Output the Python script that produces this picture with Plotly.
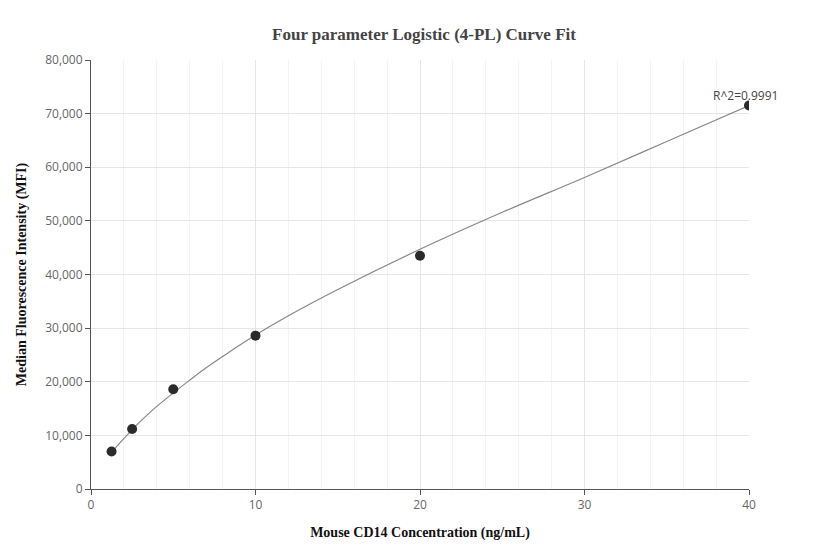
import plotly.graph_objects as go

# measured standards
conc = [1.25, 2.5, 5, 10, 20, 40]
mfi = [7000, 11200, 18600, 28600, 43500, 71500]

# fitted curve
curve_x = [1.25, 2, 3, 4, 5, 6, 7, 8, 10, 12, 15, 20, 25, 30, 35, 40]
curve_y = [6900, 9400, 12600, 15400, 17900, 20300, 22600, 24700, 28700, 32300, 37200, 44700, 51600, 58100, 64800, 71500]

r2_label = "R^2=0.9991"

fig = go.Figure()
fig.add_trace(go.Scatter(x=curve_x, y=curve_y, mode='lines', line=dict(color='#888888', width=1.2, shape='spline'),
                         hoverinfo='skip', showlegend=False))
fig.add_trace(go.Scatter(x=conc, y=mfi, mode='markers', marker=dict(color='#2b2b2b', size=10), showlegend=False))

fig.add_annotation(x=conc[-1], y=mfi[-1], text=r2_label, showarrow=False, yshift=10, xshift=-4,
                   font=dict(family='Open Sans, sans-serif', size=12, color='#444'))

fig.update_xaxes(range=[0, 40], dtick=10, showgrid=True, gridcolor='#e6e6e6',
                 minor=dict(dtick=2, showgrid=True, gridcolor='#f3f3f3'),
                 showline=True, linecolor='#555', ticks='outside', ticklen=5, tickcolor='#555',
                 zeroline=False, tickfont=dict(family='Open Sans, sans-serif', size=12, color='#666'),
                 title=dict(text='Mouse CD14 Concentration (ng/mL)', standoff=14,
                            font=dict(family='Times New Roman, Liberation Serif, serif', size=14, color='#111')))
fig.update_yaxes(range=[0, 80000], dtick=10000, tickformat=',', showgrid=True, gridcolor='#e6e6e6',
                 showline=True, linecolor='#555', ticks='outside', ticklen=5, tickcolor='#555',
                 zeroline=False, tickfont=dict(family='Open Sans, sans-serif', size=12, color='#666'),
                 title=dict(text='Median Fluorescence Intensity (MFI)',
                            font=dict(family='Times New Roman, Liberation Serif, serif', size=14, color='#111')))

fig.update_layout(
    width=832, height=560,
    margin=dict(l=74, r=91, t=52, b=79),
    plot_bgcolor='white', paper_bgcolor='white',
    title=dict(text='<b>Four parameter Logistic (4-PL) Curve Fit</b>', x=0.5, xanchor='center', y=0.965,
               font=dict(family='Times New Roman, Liberation Serif, serif', size=17, color='#444')),
)
fig.update_xaxes(title_font_weight='bold')
fig.update_yaxes(title_font_weight='bold')

fig.write_html("out.html")
